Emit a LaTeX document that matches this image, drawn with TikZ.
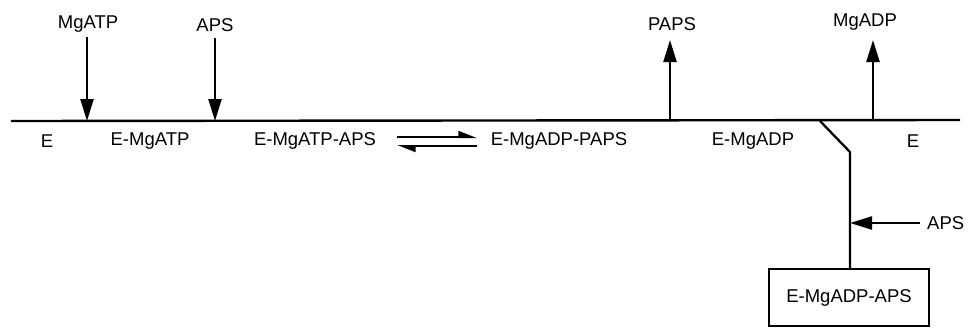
\documentclass[tikz,border=0pt]{standalone}
\usepackage{fontspec}
\setmainfont{Liberation Sans}
\usetikzlibrary{arrows.meta}
\begin{document}
\begin{tikzpicture}[x=1pt,y=-1pt,
  every node/.style={font=\fontsize{18.5}{20}\selectfont, inner sep=0pt},
  axis/.style={line width=2.4pt},
  flow/.style={line width=2.3pt, -{Triangle[length=22pt,width=13pt]}},
  harp/.style={line width=2pt, -{Triangle[left,length=16pt,width=12pt]}},
  lbl/.style={anchor=center}]
\useasboundingbox (0,0) rectangle (968,327);

% main reaction line
\coordinate (start) at (11,121);
\coordinate (fin) at (960,120);
\coordinate (kink) at (820,121);
\draw[axis] (start) -- (fin);

% species along the line
\node[lbl] (e1) at (47,141) {E};
\node[lbl] (emgatp) at (150,141) {E-MgATP};
\node[lbl] (emgatpaps) at (315,141) {E-MgATP-APS};
\node[lbl] (emgadppaps) at (559,141) {E-MgADP-PAPS};
\node[lbl] (emgadp) at (753,141) {E-MgADP};
\node[lbl] (e2) at (913,141) {E};

% substrates in
\node[lbl] (mgatp) at (88,24) {MgATP};
\node[lbl] (aps1) at (215,25) {APS};
\coordinate (mgatpIn) at (87,121);
\coordinate (aps1In) at (215,121);
\draw[flow] (mgatpIn |- 0,37) -- (mgatpIn);
\draw[flow] (aps1In |- 0,38) -- (aps1In);

% products out
\node[lbl] (paps) at (672,24) {PAPS};
\node[lbl] (mgadp) at (865,22) {MgADP};
\coordinate (papsOut) at (670,121);
\coordinate (mgadpOut) at (873,120);
\draw[flow] (papsOut) -- (papsOut |- 0,40);
\draw[flow] (mgadpOut) -- (mgadpOut |- 0,40);

% reversible interconversion
\coordinate (eqL) at (397,137);
\coordinate (eqR) at (477,137);
\coordinate (eqL2) at (397,146);
\coordinate (eqR2) at (477,146);
\draw[harp] (eqL) -- (eqR);
\draw[harp] (eqR2) -- (eqL2);

% dead-end branch
\node[draw, line width=2pt, minimum width=160pt, minimum height=57pt] (dead) at (849,297.5) {E-MgADP-APS};
\coordinate (bend) at (850,152);
\draw[line width=2.3pt] (kink) -- (bend) -- (dead.north -| bend);
\node[lbl, anchor=west] (aps2) at (927,223) {APS};
\coordinate (aps2In) at (850,223);
\draw[flow] (aps2.west) ++(-7,0) -- (aps2In);
\end{tikzpicture}
\end{document}
